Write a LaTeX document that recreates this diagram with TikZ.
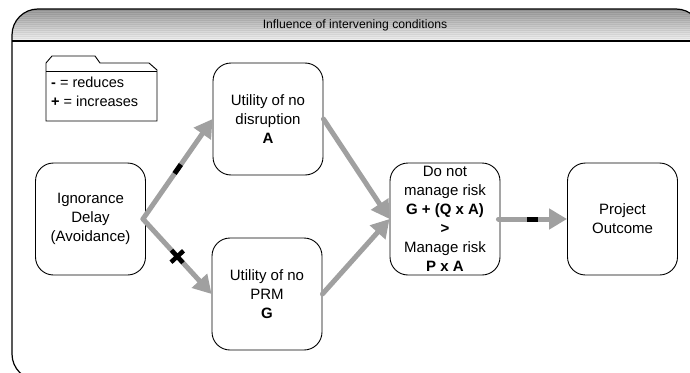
\documentclass[tikz,border=0pt]{standalone}
\usepackage{fontspec}
\setmainfont{Liberation Sans}
\usetikzlibrary{arrows.meta}
\definecolor{flowgray}{RGB}{160,160,160}
\tikzset{
  box/.style={draw, line width=0.9pt, rounded corners=18pt, minimum width=110pt, minimum height=112pt,
    align=center, inner sep=0pt, font=\fontsize{15}{19}\selectfont},
  flow/.style={draw=flowgray, line width=5pt, line cap=round,
    -{Triangle[length=18pt,width=20pt]}},
  minusmark/.style={fill=black, inner sep=0pt, minimum width=11pt, minimum height=5pt, sloped},
  plusbar/.style={fill=black, inner sep=0pt, minimum width=17pt, minimum height=4.5pt, sloped},
}
\begin{document}
\begin{tikzpicture}[x=1pt,y=-1pt]
\useasboundingbox (0,0) rectangle (690,372);
\clip (0,0) rectangle (690,372);
% header band
\begin{scope}
\clip[rounded corners=26pt] (12,9) rectangle (702,380);
\foreach \i in {0,...,31}{
  \pgfmathtruncatemacro\g{40-1.1*\i+5*mod(\i,2)}
  \fill[black!\g] (0,9+\i) rectangle (702,10+\i);
}
\end{scope}
\draw[line width=1.2pt, rounded corners=26pt] (12,9) rectangle (702,380);
\draw[line width=2pt] (12,41) -- (702,41);
\node[font=\fontsize{12.2}{14}\selectfont] (title) at (355,25) {Influence of intervening conditions};

% legend folder
\draw[line width=0.9pt] (46,121) -- (46,63) -- (52,56) -- (95,56) -- (100,63) -- (149,63)
  -- (157,70) -- (157,121) -- cycle;
\draw[line width=0.9pt] (46,71) -- (157,71);
\node[anchor=west, align=left, inner sep=0pt, font=\fontsize{14.5}{19}\selectfont] (legend) at (51,92)
  {\textbf{-} = reduces\\\textbf{+} = increases};

% boxes
\node[box] (ign) at (90.5,219) {Ignorance\\Delay\\(Avoidance)};
\node[box] (nodis) at (268,119) {Utility of no\\disruption\\\textbf{A}};
\node[box] (noprm) at (267,294) {Utility of no\\PRM\\\textbf{G}};
\node[box] (decide) at (445,219) {Do not\\manage risk\\\textbf{G + (Q x A)}\\\textbf{>}\\Manage risk\\\textbf{P x A}};
\node[box] (outcome) at (622.5,219) {Project\\Outcome};

% arrows
\coordinate (fork) at ([xshift=-3pt]ign.east);
\draw[flow] (fork) -- (nodis.west) node[minusmark, pos=.5] {};
\draw[flow] (fork) -- (noprm.west) node[plusbar, pos=.5] {}
  node[plusbar, pos=.5, minimum width=4.5pt, minimum height=17pt] {};
\draw[flow] (nodis.east) -- (decide.west);
\draw[flow] (noprm.east) -- (decide.west);
\draw[flow] ([xshift=-2pt]decide.east) -- (outcome.west) node[minusmark, pos=.5] {};
\end{tikzpicture}
\end{document}
